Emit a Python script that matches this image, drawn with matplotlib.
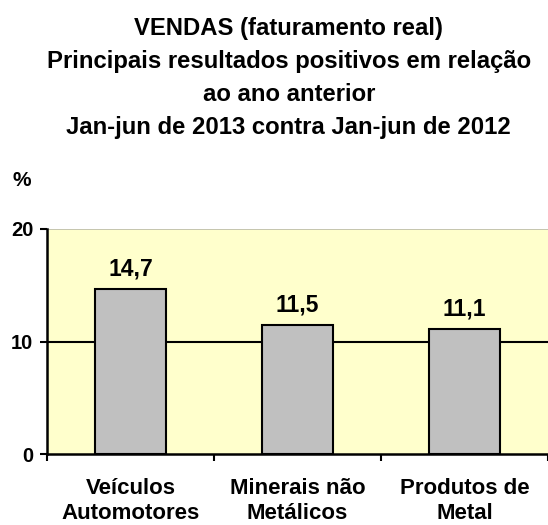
import matplotlib.pyplot as plt

plt.rcParams['font.family'] = ['Liberation Sans', 'DejaVu Sans']
plt.rcParams['font.weight'] = 'bold'

categorias = ['Veículos\nAutomotores', 'Minerais não\nMetálicos', 'Produtos de\nMetal']
valores = [14.7, 11.5, 11.1]
rotulos = ['14,7', '11,5', '11,1']
yticks = [0, 10, 20]

titulo = ('VENDAS (faturamento real)\n'
          'Principais resultados positivos em relação\n'
          'ao ano anterior\n'
          'Jan-jun de 2013 contra Jan-jun de 2012')

fig = plt.figure(figsize=(5.48, 5.25), dpi=100)
ax = fig.add_axes([0.0858, 0.135, 0.9142, 0.429])
ax.set_facecolor('#FFFFCC')

x = range(len(categorias))
ax.bar(x, valores, width=0.43, color='#C0C0C0', edgecolor='black', linewidth=1.5, zorder=3)
for xi, v, r in zip(x, valores, rotulos):
    ax.text(xi, v + 0.75, r, ha='center', va='bottom', fontsize=16.5, fontweight='bold')

ax.set_xlim(-0.5, 2.5)
ax.set_ylim(0, 20)
ax.set_yticks(yticks)
ax.set_yticklabels([str(t) for t in yticks], fontsize=14.5, fontweight='bold')
ax.axhline(10, color='black', linewidth=1.5, zorder=2)
ax.axhline(20, color='#BBBBAA', linewidth=1.2, zorder=2)
ax.set_xticks(list(x))
ax.set_xticklabels(categorias, fontsize=16, fontweight='bold', linespacing=1.29)
ax.set_xticks([-0.5, 0.5, 1.5, 2.5], minor=True)
ax.tick_params(axis='x', which='major', length=0, pad=17)
ax.tick_params(axis='x', which='minor', length=5, width=1.5, direction='out')
ax.tick_params(axis='y', length=5, width=1.5, direction='out', pad=5)

for s in ['top', 'right']:
    ax.spines[s].set_visible(False)
ax.spines['left'].set_linewidth(1.8)
ax.spines['bottom'].set_linewidth(1.8)

fig.text(0.527, 0.968, titulo, ha='center', va='top',
         fontsize=17.2, fontweight='bold', linespacing=1.56)
fig.text(0.022, 0.657, '%', ha='left', va='center', fontsize=15, fontweight='bold')

fig.savefig('out.png', dpi=100)
